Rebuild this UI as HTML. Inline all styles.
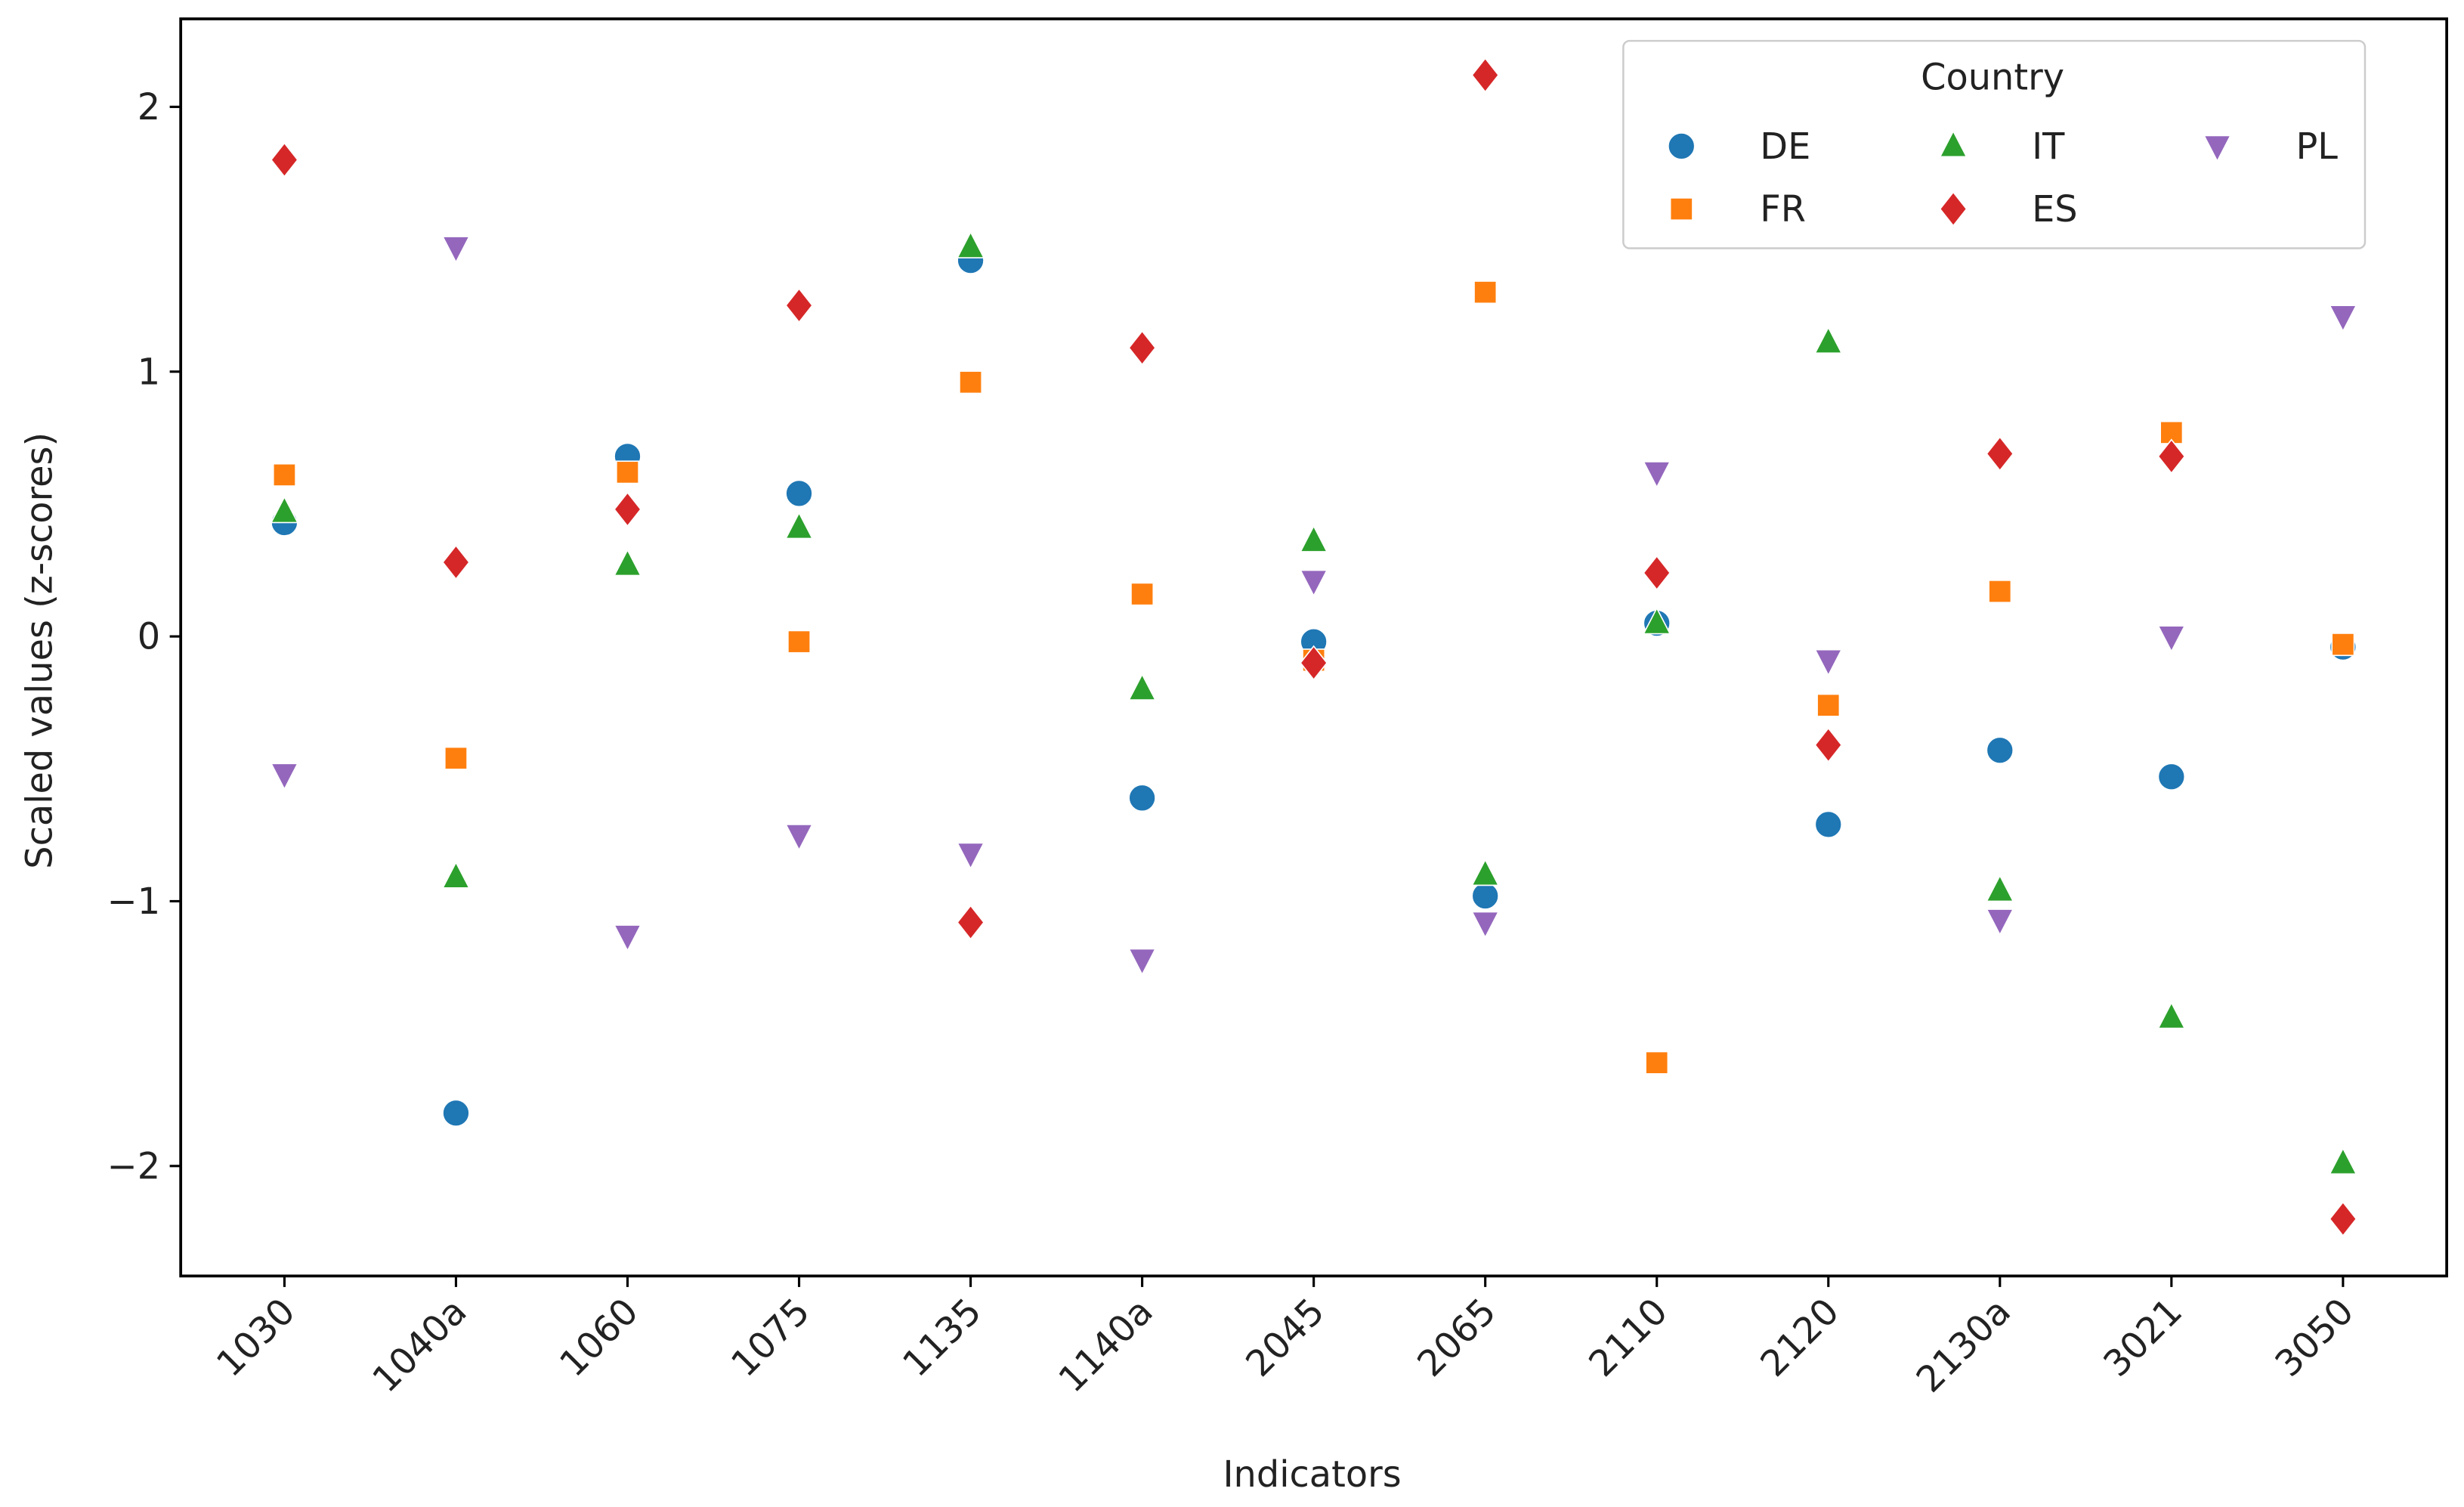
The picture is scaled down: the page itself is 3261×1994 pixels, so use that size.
<!DOCTYPE html>
<html><head><meta charset="utf-8"><style>
html,body{margin:0;padding:0;background:#fff;width:3261px;height:1994px;overflow:hidden}
svg{display:block}
text{font-family:"DejaVu Sans","Liberation Sans",sans-serif;fill:#222}
</style></head><body>
<svg id="chart" width="3261" height="1994" viewBox="0 0 1568 959" preserveAspectRatio="none" xmlns="http://www.w3.org/2000/svg">
<rect width="1568" height="959" fill="#fff"/>
<g id="marks"></g>
<rect x="115" y="12" width="1442" height="800" fill="none" stroke="#000" stroke-width="1.8"/>
<g id="axes"></g>
<text x="835" y="946" font-size="23" text-anchor="middle">Indicators</text>
<text x="0" y="0" font-size="23" text-anchor="middle" transform="translate(33,414) rotate(-90)">Scaled values (z-scores)</text>
<g>
<rect x="1033" y="26" width="472" height="132" rx="4" fill="#fff" fill-opacity="0.85" stroke="#ccc" stroke-width="1.2"/>
<text x="1268" y="57" font-size="23" text-anchor="middle">Country</text>
<g id="legend-items"></g>
</g>
</svg>
<script>
const categories = ["1030","1040a","1060","1075","1135","1140a","2045","2065","2110","2120","2130a","3021","3050"];
const seriesNames = ["DE","FR","IT","ES","PL"];
const colors = ["#1f77b4","#ff7f0e","#2ca02c","#d62728","#9467bd"];
const shapes = ["circle","square","triangle-up","diamond","triangle-down"];
const valuesDE = [0.43,-1.80,0.68,0.54,1.42,-0.61,-0.02,-0.98,0.05,-0.71,-0.43,-0.53,-0.04];
const valuesFR = [0.61,-0.46,0.62,-0.02,0.96,0.16,-0.09,1.30,-1.61,-0.26,0.17,0.77,-0.03];
const valuesIT = [0.47,-0.91,0.27,0.41,1.47,-0.20,0.36,-0.90,0.05,1.11,-0.96,-1.44,-1.99];
const valuesES = [1.80,0.28,0.48,1.25,-1.08,1.09,-0.10,2.12,0.24,-0.41,0.69,0.68,-2.20];
const valuesPL = [-0.52,1.47,-1.13,-0.75,-0.82,-1.22,0.21,-1.08,0.62,-0.09,-1.07,0.00,1.21];
const yTicks = [-2,-1,0,1,2];
const yTickLabels = ["\u22122","\u22121","0","1","2"];

const NS="http://www.w3.org/2000/svg";
const series=[valuesDE,valuesFR,valuesIT,valuesES,valuesPL];
function xScale(i){return 181+i*(1491-181)/(categories.length-1);}
function yScale(v){return 405-v*168.5;}
function mk(tag,attrs,parent){const e=document.createElementNS(NS,tag);for(const k in attrs)e.setAttribute(k,attrs[k]);parent.appendChild(e);return e;}
function marker(shape,cx,cy,color,parent){
  let e;const k=1.12;
  if(shape==="circle") e=mk("circle",{cx:cx,cy:cy,r:7.5*k},parent);
  else if(shape==="square") e=mk("rect",{x:cx-6.3*k,y:cy-6.3*k,width:12.6*k,height:12.6*k},parent);
  else if(shape==="triangle-up") e=mk("polygon",{points:`${cx},${cy-8.5*k} ${cx+7.5*k},${cy+6*k} ${cx-7.5*k},${cy+6*k}`},parent);
  else if(shape==="triangle-down") e=mk("polygon",{points:`${cx},${cy+8.5*k} ${cx+7.5*k},${cy-6*k} ${cx-7.5*k},${cy-6*k}`},parent);
  else e=mk("polygon",{points:`${cx},${cy-9.5*k} ${cx+7.5*k},${cy} ${cx},${cy+9.5*k} ${cx-7.5*k},${cy}`},parent);
  e.setAttribute("fill",color);e.setAttribute("stroke","#fff");e.setAttribute("stroke-width","0.8");
  return e;
}
const marks=document.getElementById("marks");
series.forEach((vals,si)=>{
  vals.forEach((v,i)=>{
    const e=marker(shapes[si],xScale(i),yScale(v),colors[si],marks);
    
    
  });
});
const axes=document.getElementById("axes");
yTicks.forEach((t,i)=>{
  const y=yScale(t);
  const l=mk("line",{x1:108,x2:115,y1:y,y2:y,stroke:"#000","stroke-width":1.5},axes);
  
  
  const tx=mk("text",{x:102,y:y+8,"font-size":23,"text-anchor":"end"},axes);
  tx.textContent=yTickLabels[i];
  
  
});
categories.forEach((c,i)=>{
  const x=xScale(i);
  const l=mk("line",{x1:x,x2:x,y1:812,y2:819,stroke:"#000","stroke-width":1.5},axes);
  
  
  const tx=mk("text",{x:0,y:0,"font-size":23,"text-anchor":"end",transform:`translate(${x+8},${836}) rotate(-45)`},axes);
  tx.textContent=c;
  
  
});
const legendPos=[[1070,93],[1070,133],[1243,93],[1243,133],[1411,93]];
const li=document.getElementById("legend-items");
seriesNames.forEach((n,si)=>{
  const [lx,ly]=legendPos[si];
  const m=marker(shapes[si],lx,ly,colors[si],li);
  
  
  const t=mk("text",{x:lx+50,y:ly+8,"font-size":23},li);
  t.textContent=n;
  
  
});
</script>
</body></html>
